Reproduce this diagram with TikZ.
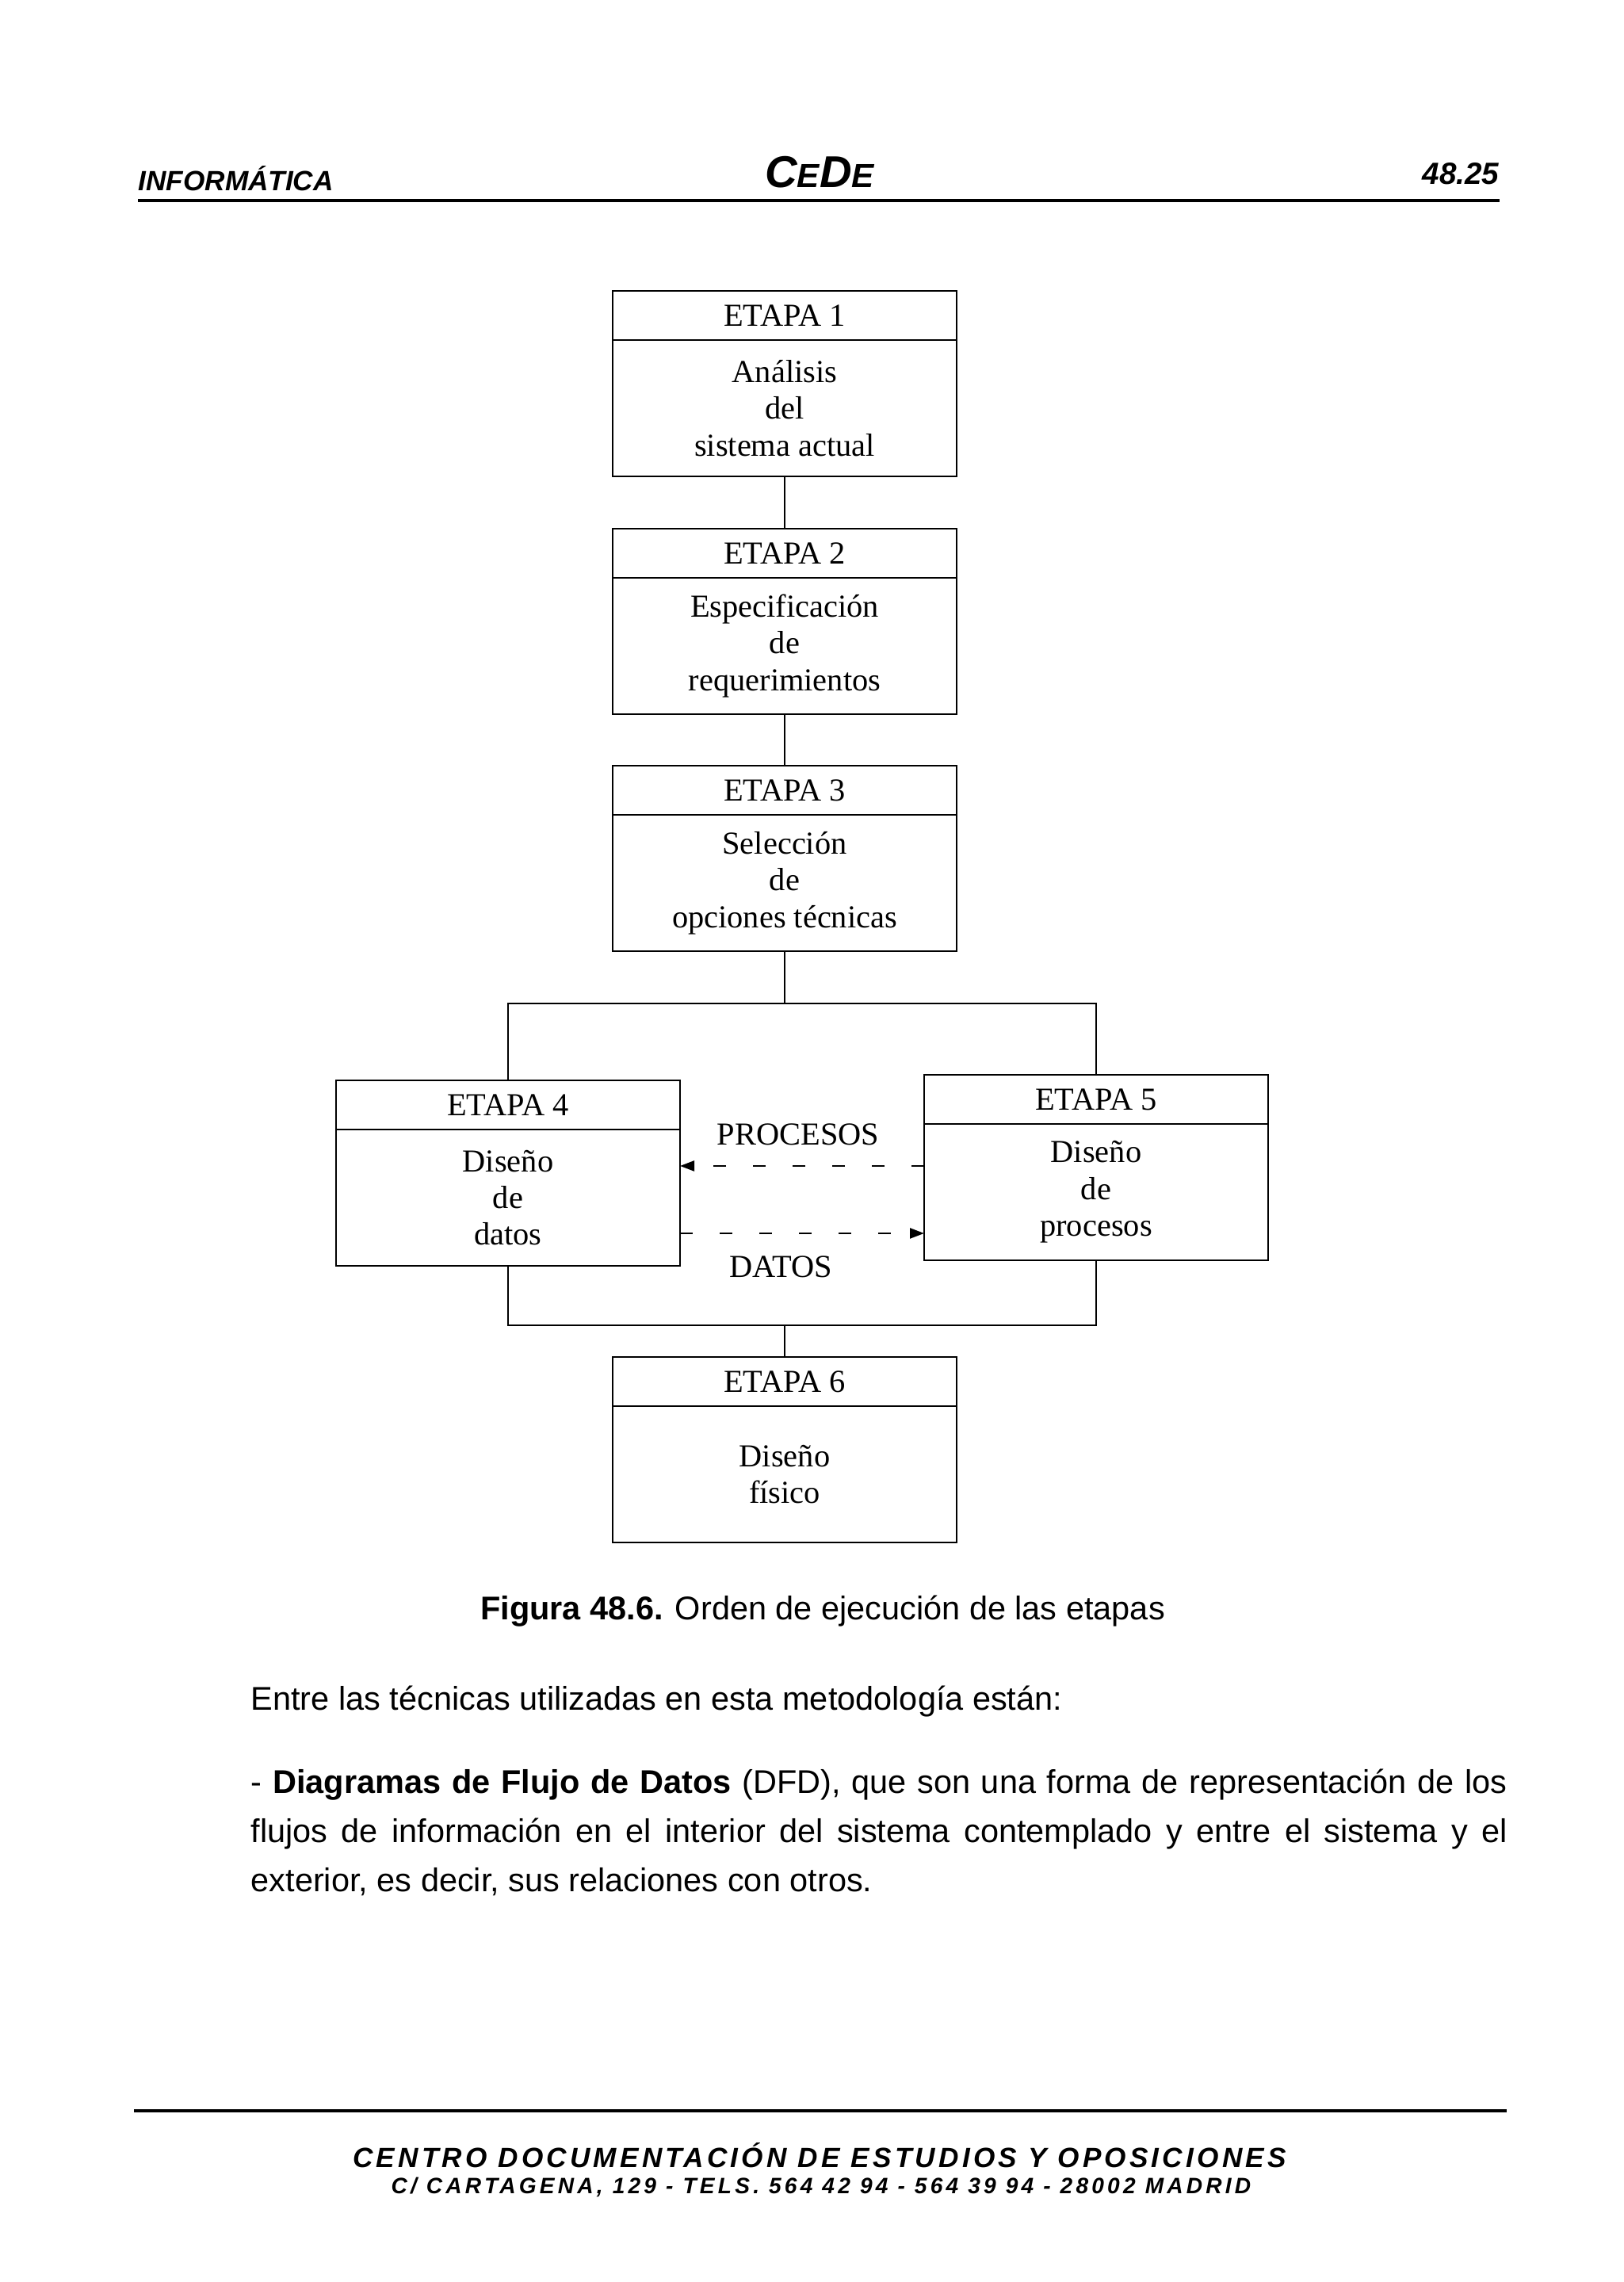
\documentclass[tikz,border=0pt]{standalone}
\usepackage{fontspec}
\setmainfont{Liberation Serif}
\newfontfamily\pagesans{Liberation Sans}
\newfontfamily\footsans[LetterSpace=12]{Liberation Sans}
\newfontfamily\addrsans[LetterSpace=15]{Liberation Sans}
\usetikzlibrary{arrows.meta,positioning}
\tikzset{
  stagehead/.style={draw,line width=0.8pt,outer sep=0pt,inner sep=0pt,anchor=north,
    minimum width=4.34cm,minimum height=0.62cm,font=\fontsize{11.5}{13}\selectfont},
  stagebody/.style={draw,line width=0.8pt,outer sep=0pt,inner sep=0pt,align=center,
    minimum width=4.34cm,minimum height=1.72cm,font=\fontsize{11.5}{13.2}\selectfont},
  flowline/.style={line width=0.7pt},
  dataarrow/.style={-{Triangle[length=1.8mm,width=1.3mm]},line width=0.7pt,
    dash pattern=on 1.6mm off 3.4mm},
  flowlabel/.style={font=\fontsize{11.5}{13}\selectfont},
  pagetext/.style={inner sep=0pt,font=\pagesans\fontsize{11.8}{17.6}\selectfont},
  pagehead/.style={inner sep=0pt,font=\pagesans\bfseries\itshape}
}
\begin{document}
\begin{tikzpicture}[x=1cm,y=1cm]
  \useasboundingbox (0,0) rectangle (20.48,28.79);
  \fill[white] (0,0) rectangle (20.48,28.79);

  % page header
  \node[pagehead,anchor=base west,font=\pagesans\bfseries\itshape\fontsize{10}{12}\selectfont] (hleft) at (1.74,26.38) {INFORMÁTICA};
  \node[pagehead,anchor=base] (hmid) at (10.34,26.42) {\fontsize{16}{18}\selectfont C\fontsize{12}{14}\selectfont E\fontsize{16}{18}\selectfont D\fontsize{12}{14}\selectfont E};
  \node[pagehead,anchor=base east,font=\pagesans\bfseries\itshape\fontsize{11}{13}\selectfont] (hright) at (18.92,26.46) {48.25};
  \coordinate (hruleL) at (1.74,26.26);
  \coordinate (hruleR) at (18.92,26.26);
  \draw[line width=1.1pt] (hruleL) -- (hruleR);

  % stages
  \node[stagehead] (h1) at (9.90,25.12) {ETAPA 1};
  \node[stagebody,below=0pt of h1] (e1) {Análisis\\del\\sistema actual};
  \node[stagehead] (h2) at (9.90,22.12) {ETAPA 2};
  \node[stagebody,below=0pt of h2] (e2) {Especificación\\de\\requerimientos};
  \node[stagehead] (h3) at (9.90,19.13) {ETAPA 3};
  \node[stagebody,below=0pt of h3] (e3) {Selección\\de\\opciones técnicas};
  \node[stagehead] (h4) at (6.41,15.16) {ETAPA 4};
  \node[stagebody,below=0pt of h4] (e4) {Diseño\\de\\datos};
  \node[stagehead] (h5) at (13.83,15.23) {ETAPA 5};
  \node[stagebody,below=0pt of h5] (e5) {Diseño\\de\\procesos};
  \node[stagehead] (h6) at (9.90,11.67) {ETAPA 6};
  \node[stagebody,below=0pt of h6] (e6) {Diseño\\físico};

  \draw[flowline] (e1.south) -- (h2.north);
  \draw[flowline] (e2.south) -- (h3.north);
  \coordinate (split) at (9.90,16.13);
  \draw[flowline] (e3.south) -- (split);
  \draw[flowline] (h4.north) -- (h4.north |- split) -- (h5.north |- split) -- (h5.north);
  \coordinate (join) at (9.90,12.07);
  \draw[flowline] (e4.south) -- (e4.south |- join) -- (e5.south |- join) -- (e5.south);
  \draw[flowline] (join) -- (h6.north);

  % flows between stage 4 and 5
  \coordinate (procrow) at (0,14.08);
  \coordinate (datrow) at (0,13.23);
  \draw[dataarrow] (e5.west |- procrow) -- (e4.east |- procrow);
  \draw[dataarrow] (e4.east |- datrow) -- (e5.west |- datrow);
  \node[flowlabel] (lproc) at (10.07,14.48) {PROCESOS};
  \node[flowlabel] (ldat) at (9.85,12.81) {DATOS};

  % caption and text
  \node[pagetext,anchor=base] (caption) at (10.38,8.35) {\textbf{Figura 48.6.} Orden de ejecución de las etapas};
  \node[pagetext,anchor=base west] (intro) at (3.16,7.21) {Entre las técnicas utilizadas en esta metodología están:};
  \node[pagetext,anchor=base west,text width=15.85cm,align=justify] (dfd) at (3.16,6.16)
    {- \textbf{Diagramas de Flujo de Datos} (DFD), que son una forma de representación de los\linebreak
     flujos de información en el interior del sistema contemplado y entre el sistema y el\linebreak
     exterior, es decir, sus relaciones con otros.};

  % page footer
  \coordinate (fruleL) at (1.69,2.16);
  \coordinate (fruleR) at (19.01,2.16);
  \draw[line width=1pt] (fruleL) -- (fruleR);
  \node[inner sep=0pt,anchor=base,font=\footsans\bfseries\itshape\fontsize{10}{12}\selectfont] (fline1) at (10.34,1.44) {CENTRO DOCUMENTACIÓN DE ESTUDIOS Y OPOSICIONES};
  \node[inner sep=0pt,anchor=base,font=\addrsans\bfseries\itshape\fontsize{8}{10}\selectfont] (fline2) at (10.36,1.11) {C/ CARTAGENA, 129 - TELS. 564 42 94 - 564 39 94 - 28002 MADRID};
\end{tikzpicture}
\end{document}
